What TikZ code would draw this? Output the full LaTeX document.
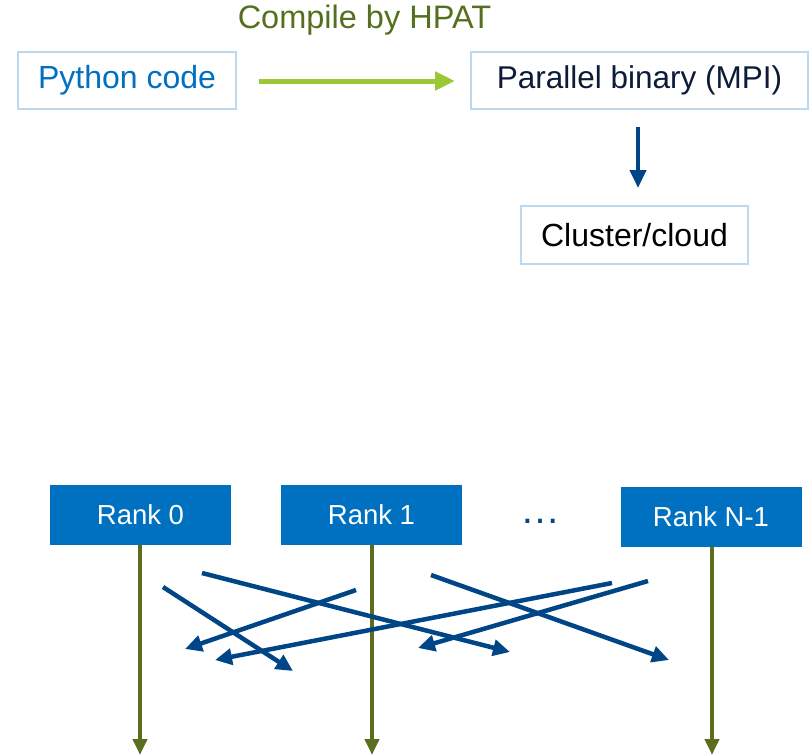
\documentclass[tikz,border=0pt]{standalone}
\usepackage{fontspec}
\setmainfont{Liberation Sans}
\usetikzlibrary{arrows.meta}
\definecolor{boxedge}{RGB}{189,217,240}
\definecolor{pyblue}{RGB}{0,112,192}
\definecolor{darktext}{RGB}{12,28,56}
\definecolor{olivetext}{RGB}{84,112,30}
\definecolor{limegreen}{RGB}{155,200,55}
\definecolor{olive}{RGB}{90,110,30}
\definecolor{navy}{RGB}{0,70,135}
\definecolor{rankblue}{RGB}{0,112,192}
\begin{document}
\begin{tikzpicture}[x=1pt,y=-1pt,
  lightbox/.style={draw=boxedge,line width=2pt,fill=white,inner sep=0pt,font=\fontsize{32}{36}\selectfont},
  rankbox/.style={fill=rankblue,text=white,inner sep=0pt,minimum width=181pt,minimum height=60pt,font=\fontsize{27.5}{32}\selectfont},
  flow/.style={line width=4.5pt,navy,-{Triangle[length=17pt,width=16pt]}},
  life/.style={line width=4pt,olive,-{Triangle[length=16pt,width=14pt]}}]
\useasboundingbox (0,0) rectangle (809,755);

\node[lightbox,text=pyblue,minimum width=218pt,minimum height=57pt] (py) at (127,80.5) {Python code};
\node[lightbox,text=darktext,minimum width=337pt,minimum height=57pt,font=\fontsize{31.5}{36}\selectfont] (par) at (639.5,80.5) {Parallel binary (MPI)};
\node[lightbox,text=black,minimum width=227pt,minimum height=58pt] (cl) at (634.5,235) {Cluster/cloud};
\node[text=olivetext,font=\fontsize{32.5}{36}\selectfont,inner sep=0pt] (cmp) at (364.5,20) {Compile by HPAT};

\coordinate (ga) at (259,81);
\coordinate (gb) at (455,81);
\draw[line width=5pt,limegreen,-{Triangle[length=20pt,width=18pt]}] (ga) -- (gb);
\coordinate (da) at (638,127);
\coordinate (db) at (638,188);
\draw[line width=4pt,navy,-{Triangle[length=18pt,width=16pt]}] (da) -- (db);

\node[rankbox] (r0) at (140.5,515) {Rank 0};
\node[rankbox] (r1) at (371.5,515) {Rank 1};
\node[rankbox] (rn) at (711,517) {Rank N-1};
\node[text=navy,font=\fontsize{40}{44}\selectfont,inner sep=0pt] (dots) at (540,521) {\dots};

\coordinate (e0) at (140,755);
\coordinate (e1) at (372,755);
\coordinate (en) at (712,755);
\draw[life] (r0.south -| e0) -- (e0);
\draw[life] (r1.south -| e1) -- (e1);
\draw[life] (rn.south -| en) -- (en);

\coordinate (a1s) at (163,587); \coordinate (a1e) at (293,671);
\coordinate (a2s) at (202,573); \coordinate (a2e) at (510,652);
\coordinate (a3s) at (356,590); \coordinate (a3e) at (185,649);
\coordinate (a4s) at (612,583); \coordinate (a4e) at (215,660);
\coordinate (a5s) at (431,575); \coordinate (a5e) at (669,660);
\coordinate (a6s) at (648,581); \coordinate (a6e) at (418,648);
\draw[flow] (a1s) -- (a1e);
\draw[flow] (a2s) -- (a2e);
\draw[flow] (a3s) -- (a3e);
\draw[flow] (a4s) -- (a4e);
\draw[flow] (a5s) -- (a5e);
\draw[flow] (a6s) -- (a6e);
\end{tikzpicture}
\end{document}
